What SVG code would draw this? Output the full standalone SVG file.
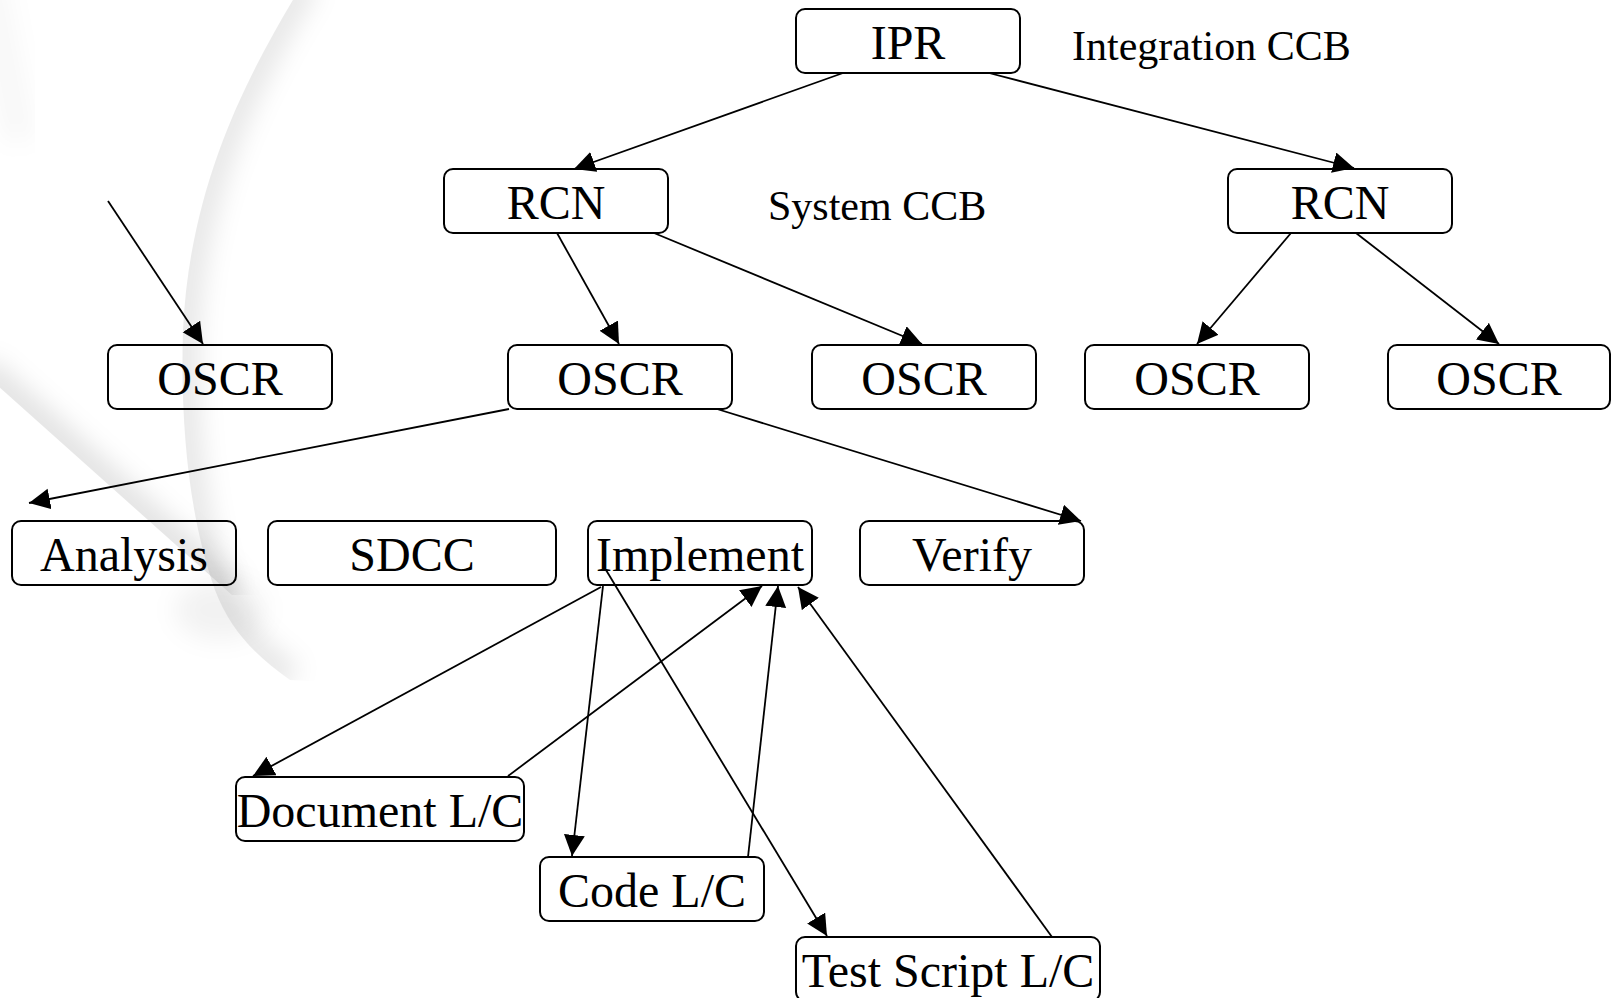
<svg xmlns="http://www.w3.org/2000/svg" width="1612" height="998" viewBox="0 0 1612 998">
<style>
.box{fill:none;stroke:#000;stroke-width:2}
.lbl{font-family:"Liberation Serif","Times New Roman",serif;font-size:48px;fill:#000;text-anchor:middle}
.note{font-family:"Liberation Serif","Times New Roman",serif;font-size:42px;fill:#000}
.edge{stroke:#000;stroke-width:1.8;fill:none;marker-end:url(#arrow)}
.shade{fill:none;stroke:#000;filter:url(#blur)}
</style>
<defs>
<marker id="arrow" markerUnits="userSpaceOnUse" markerWidth="24" markerHeight="24" refX="21" refY="10.5" orient="auto">
<path d="M0,0 L21,10.5 L0,21 Z" fill="#000"/>
</marker>
<filter id="blur" x="-50%" y="-50%" width="200%" height="200%"><feGaussianBlur stdDeviation="12"/></filter>
<clipPath id="rightOfArc"><path d="M 305 -20 C 250 70, 190 180, 183 330 C 180 430, 190 520, 215 590 C 230 630, 255 655, 290 680 L 700 700 L 700 -20 Z"/></clipPath>
<clipPath id="aboveDiag"><path d="M -20 370 L 232 595 L 500 595 L 500 -20 L -20 -20 Z"/></clipPath>
</defs>
<rect width="1612" height="998" fill="#fff"/>
<g id="background">
<g clip-path="url(#rightOfArc)">
<path class="shade" d="M 305 -20 C 250 70, 190 180, 183 330 C 180 430, 190 520, 215 590 C 230 630, 255 655, 290 680" stroke-opacity="0.09" stroke-width="34"/>
</g>
<g clip-path="url(#aboveDiag)">
<path class="shade" d="M -20 370 L 232 595" stroke-opacity="0.11" stroke-width="34"/>
</g>
<ellipse cx="220" cy="610" rx="45" ry="30" fill="#000" fill-opacity="0.05" filter="url(#blur)"/>
<path class="shade" d="M -10 -20 L 20 140" stroke-opacity="0.03" stroke-width="30"/>
</g>
<g id="connectors">
<line class="edge" x1="843" y1="73" x2="574" y2="169"/>
<line class="edge" x1="989" y1="73" x2="1354" y2="168"/>
<line class="edge" x1="557" y1="233" x2="619" y2="344"/>
<line class="edge" x1="654" y1="233" x2="922" y2="344"/>
<line class="edge" x1="1291" y1="233" x2="1197" y2="344"/>
<line class="edge" x1="1356" y1="233" x2="1499" y2="344"/>
<line class="edge" x1="108" y1="201" x2="203" y2="344"/>
<line class="edge" x1="509" y1="409" x2="29" y2="503"/>
<line class="edge" x1="717" y1="409" x2="1081" y2="521"/>
<line class="edge" x1="601" y1="587" x2="253" y2="776"/>
<line class="edge" x1="603" y1="586" x2="572" y2="856"/>
<line class="edge" x1="606" y1="570" x2="827" y2="936"/>
<line class="edge" x1="508" y1="776" x2="762" y2="586"/>
<line class="edge" x1="748" y1="857" x2="778" y2="586"/>
<line class="edge" x1="1052" y1="937" x2="798" y2="587"/>
</g>
<g id="ipr"><rect class="box" x="796" y="9" width="224" height="64" rx="9"/><text class="lbl" x="908" y="59">IPR</text></g>
<g id="integration-ccb"><text class="note" x="1072" y="60">Integration CCB</text></g>
<g id="rcn-left"><rect class="box" x="444" y="169" width="224" height="64" rx="9"/><text class="lbl" x="556" y="219">RCN</text></g>
<g id="system-ccb"><text class="note" x="768" y="220">System CCB</text></g>
<g id="rcn-right"><rect class="box" x="1228" y="169" width="224" height="64" rx="9"/><text class="lbl" x="1340" y="219">RCN</text></g>
<g id="oscr-1"><rect class="box" x="108" y="345" width="224" height="64" rx="9"/><text class="lbl" x="220" y="395">OSCR</text></g>
<g id="oscr-2"><rect class="box" x="508" y="345" width="224" height="64" rx="9"/><text class="lbl" x="620" y="395">OSCR</text></g>
<g id="oscr-3"><rect class="box" x="812" y="345" width="224" height="64" rx="9"/><text class="lbl" x="924" y="395">OSCR</text></g>
<g id="oscr-4"><rect class="box" x="1085" y="345" width="224" height="64" rx="9"/><text class="lbl" x="1197" y="395">OSCR</text></g>
<g id="oscr-5"><rect class="box" x="1388" y="345" width="222" height="64" rx="9"/><text class="lbl" x="1499" y="395">OSCR</text></g>
<g id="analysis"><rect class="box" x="12" y="521" width="224" height="64" rx="9"/><text class="lbl" x="124" y="571">Analysis</text></g>
<g id="sdcc"><rect class="box" x="268" y="521" width="288" height="64" rx="9"/><text class="lbl" x="412" y="571">SDCC</text></g>
<g id="implement"><rect class="box" x="588" y="521" width="224" height="64" rx="9"/><text class="lbl" x="700" y="571">Implement</text></g>
<g id="verify"><rect class="box" x="860" y="521" width="224" height="64" rx="9"/><text class="lbl" x="972" y="571">Verify</text></g>
<g id="document-lc"><rect class="box" x="236" y="777" width="288" height="64" rx="9"/><text class="lbl" x="380" y="827">Document L/C</text></g>
<g id="code-lc"><rect class="box" x="540" y="857" width="224" height="64" rx="9"/><text class="lbl" x="652" y="907">Code L/C</text></g>
<g id="test-script-lc"><rect class="box" x="796" y="937" width="304" height="64" rx="9"/><text class="lbl" x="948" y="987">Test Script L/C</text></g>
</svg>
